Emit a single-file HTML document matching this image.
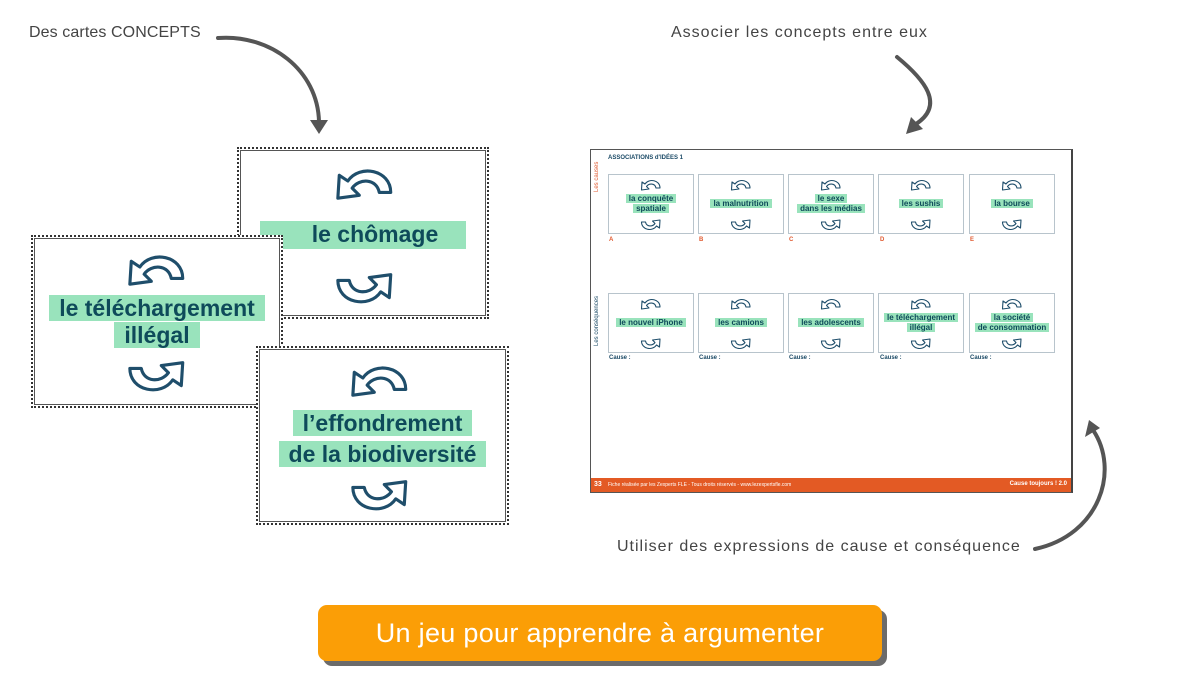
<!DOCTYPE html>
<html><head><meta charset="utf-8"><style>
*{margin:0;padding:0;box-sizing:border-box}
body{width:1200px;height:700px;background:#fff;position:relative;overflow:hidden;font-family:"Liberation Sans",sans-serif}
.lbl{position:absolute;color:#444;font-size:16px;white-space:nowrap;letter-spacing:1px}
.card{position:absolute;background:#fff;border:2px dotted #333;outline:1px solid #555;outline-offset:-4px}
.ct{position:absolute;left:0;right:0;text-align:center;font-weight:bold;color:#0e4a5a;line-height:1.18}
.hl{background:rgba(110,215,160,0.7);padding:0 10px;box-decoration-break:clone;-webkit-box-decoration-break:clone}
.sc{position:absolute;border:1px solid #b8c4cc;background:#fff;width:86px;height:60px}
.sc .ct{font-size:8px;line-height:1.25}
.sc .hl{padding:0 3px}
.let{position:absolute;font-size:6px;font-weight:bold;color:#e05a30}
.cau{position:absolute;font-size:6px;font-weight:bold;color:#1b4a66}
svg.ic{position:absolute}
</style></head><body>
<svg width="0" height="0" style="position:absolute">
<defs>
<g id="up"><path d="M40 22 C40 6 18 2 10 14 L4 10 L3 26 L18 24 L13 19 C18 12 30 12 32 22 Z" fill="#fff" stroke="#1f4e6b" stroke-width="2.2" stroke-linejoin="round"/></g>
<g id="dn"><path d="M3 8 C3 24 25 28 33 16 L39 20 L40 4 L25 6 L30 11 C25 18 13 18 11 8 Z" fill="#fff" stroke="#1f4e6b" stroke-width="2.2" stroke-linejoin="round"/></g>
</defs></svg>

<div class="lbl" style="left:29px;top:24px;letter-spacing:0.1px">Des cartes CONCEPTS</div>
<div class="lbl" style="left:671px;top:24px">Associer les concepts entre eux</div>
<div class="lbl" style="left:617px;top:538px">Utiliser des expressions de cause et conséquence</div>

<svg width="1200" height="700" style="position:absolute;left:0;top:0">
<g fill="none" stroke="#555" stroke-width="4" stroke-linecap="round">
<path d="M218 38 C270 34 318 70 319 122"/>
<path d="M897 57 C925 80 945 105 916 124"/>
<path d="M1035 549 C1100 535 1120 470 1093 430"/>
</g>
<g fill="#555">
<polygon points="310,120 328,120 319,134"/>
<polygon points="906,134 911,117 923,129"/>
<polygon points="1085,437 1100,428 1089,420"/>
</g>
</svg>

<!-- left cards -->
<div class="card" style="left:237px;top:147px;width:252px;height:172px">
<svg class="ic" style="left:94px;top:12px" width="64" height="40" viewBox="0 0 44 28"><use href="#up"/></svg>
<div class="ct" style="top:72px;font-size:23px"><span class="hl" style="padding:0 28px 2px 52px">le chômage</span></div>
<svg class="ic" style="left:94px;top:120px" width="64" height="40" viewBox="0 0 44 28"><use href="#dn"/></svg>
</div>
<div class="card" style="left:31px;top:235px;width:252px;height:173px">
<svg class="ic" style="left:92px;top:10px" width="64" height="40" viewBox="0 0 44 28"><use href="#up"/></svg>
<div class="ct" style="top:58px;font-size:23px"><span class="hl">le téléchargement</span><br><span class="hl">illégal</span></div>
<svg class="ic" style="left:92px;top:120px" width="64" height="40" viewBox="0 0 44 28"><use href="#dn"/></svg>
</div>
<div class="card" style="left:256px;top:346px;width:253px;height:179px">
<svg class="ic" style="left:90px;top:10px" width="64" height="40" viewBox="0 0 44 28"><use href="#up"/></svg>
<div class="ct" style="top:60px;font-size:23px;line-height:1.35"><span class="hl">l’effondrement</span><br><span class="hl">de la biodiversité</span></div>
<svg class="ic" style="left:90px;top:128px" width="64" height="40" viewBox="0 0 44 28"><use href="#dn"/></svg>
</div>

<!-- sheet -->
<div style="position:absolute;left:590px;top:149px;width:483px;height:344px;border:1px solid #555;border-right:2px solid #444;background:#fff">
<div style="position:absolute;left:17px;top:5px;font-size:6px;font-weight:bold;color:#1b4a66">ASSOCIATIONS d'IDÉES 1</div>
<div style="position:absolute;left:3px;top:42px;font-size:6px;color:#e05a30;transform:rotate(-90deg);transform-origin:left top;white-space:nowrap">Les causes</div>
<div style="position:absolute;left:3px;top:196px;font-size:6px;color:#1b4a66;transform:rotate(-90deg);transform-origin:left top;white-space:nowrap">Les conséquences</div>
<div style="position:absolute;left:0;right:0;bottom:0;height:14px;background:#e35a24;color:#fff;font-size:5px;font-weight:bold">
<span style="position:absolute;left:3px;top:3px;font-size:7px">33</span>
<span style="position:absolute;left:17px;top:4px;font-weight:normal">Fiche réalisée par les Zexperts FLE - Tous droits réservés - www.lezexpertsfle.com</span>
<span style="position:absolute;right:4px;top:3px;font-size:6px">Cause toujours ! 2.0</span></div>
</div>

<div class="sc" style="left:608px;top:174px"><div class="ct" style="top:19px"><span class="hl">la conquête</span><br><span class="hl">spatiale</span></div></div>
<div class="sc" style="left:698px;top:174px"><div class="ct" style="top:24px"><span class="hl">la malnutrition</span></div></div>
<div class="sc" style="left:788px;top:174px"><div class="ct" style="top:19px"><span class="hl">le sexe</span><br><span class="hl">dans les médias</span></div></div>
<div class="sc" style="left:878px;top:174px"><div class="ct" style="top:24px"><span class="hl">les sushis</span></div></div>
<div class="sc" style="left:969px;top:174px"><div class="ct" style="top:24px"><span class="hl">la bourse</span></div></div>

<div class="sc" style="left:608px;top:293px"><div class="ct" style="top:24px"><span class="hl">le nouvel iPhone</span></div></div>
<div class="sc" style="left:698px;top:293px"><div class="ct" style="top:24px"><span class="hl">les camions</span></div></div>
<div class="sc" style="left:788px;top:293px"><div class="ct" style="top:24px"><span class="hl">les adolescents</span></div></div>
<div class="sc" style="left:878px;top:293px"><div class="ct" style="top:19px"><span class="hl">le téléchargement</span><br><span class="hl">illégal</span></div></div>
<div class="sc" style="left:969px;top:293px"><div class="ct" style="top:19px"><span class="hl">la société</span><br><span class="hl">de consommation</span></div></div>

<svg width="1200" height="700" style="position:absolute;left:0;top:0">
<g>
<use href="#up" transform="translate(640,177) scale(0.5)"/><use href="#dn" transform="translate(640,218) scale(0.5)"/>
<use href="#up" transform="translate(730,177) scale(0.5)"/><use href="#dn" transform="translate(730,218) scale(0.5)"/>
<use href="#up" transform="translate(820,177) scale(0.5)"/><use href="#dn" transform="translate(820,218) scale(0.5)"/>
<use href="#up" transform="translate(910,177) scale(0.5)"/><use href="#dn" transform="translate(910,218) scale(0.5)"/>
<use href="#up" transform="translate(1001,177) scale(0.5)"/><use href="#dn" transform="translate(1001,218) scale(0.5)"/>
<use href="#up" transform="translate(640,296) scale(0.5)"/><use href="#dn" transform="translate(640,337) scale(0.5)"/>
<use href="#up" transform="translate(730,296) scale(0.5)"/><use href="#dn" transform="translate(730,337) scale(0.5)"/>
<use href="#up" transform="translate(820,296) scale(0.5)"/><use href="#dn" transform="translate(820,337) scale(0.5)"/>
<use href="#up" transform="translate(910,296) scale(0.5)"/><use href="#dn" transform="translate(910,337) scale(0.5)"/>
<use href="#up" transform="translate(1001,296) scale(0.5)"/><use href="#dn" transform="translate(1001,337) scale(0.5)"/>
</g></svg>

<div class="let" style="left:609px;top:237px">A</div>
<div class="let" style="left:699px;top:237px">B</div>
<div class="let" style="left:789px;top:237px">C</div>
<div class="let" style="left:880px;top:237px">D</div>
<div class="let" style="left:970px;top:237px">E</div>
<div class="cau" style="left:609px;top:355px">Cause :</div>
<div class="cau" style="left:699px;top:355px">Cause :</div>
<div class="cau" style="left:789px;top:355px">Cause :</div>
<div class="cau" style="left:880px;top:355px">Cause :</div>
<div class="cau" style="left:970px;top:355px">Cause :</div>

<!-- button -->
<div style="position:absolute;left:323px;top:610px;width:564px;height:56px;background:#6b6b6b;border-radius:9px"></div>
<div style="position:absolute;left:318px;top:605px;width:564px;height:56px;background:#fb9e06;border-radius:9px;color:#fff;font-size:27px;text-align:center;line-height:56px;letter-spacing:0.3px">Un jeu pour apprendre à argumenter</div>
</body></html>
